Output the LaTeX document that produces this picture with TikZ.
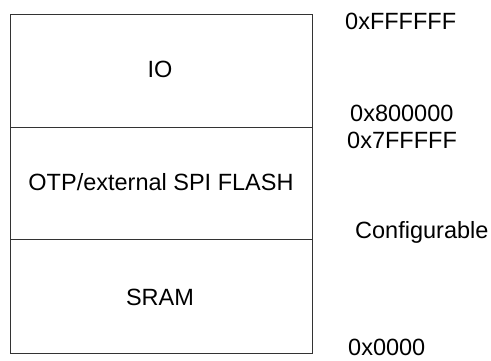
\documentclass[tikz,border=0pt]{standalone}
\usepackage{fontspec}
\setmainfont{Liberation Sans}
\begin{document}
\begin{tikzpicture}[x=1pt,y=-1pt,
  region/.style={draw=black!80,line width=0.9pt,minimum width=302pt,inner sep=0pt,anchor=north west},
  lbl/.style={font=\fontsize{23.5}{26}\selectfont,inner sep=0pt},
  addr/.style={font=\fontsize{23.5}{26}\selectfont,anchor=west,inner sep=0pt}]
\useasboundingbox (0,0) rectangle (491,360);
\node[region,minimum height=113pt] (io) at (10,14) {};
\node[region,minimum height=112pt] (otp) at (10,127) {};
\node[region,minimum height=114pt] (sram) at (10,239) {};
\node[lbl] (tio) at (160,69) {IO};
\node[lbl] (totp) at (161,182) {OTP/external SPI FLASH};
\node[lbl] (tsram) at (160,297) {SRAM};
\node[addr] (a1) at (345,21) {0xFFFFFF};
\node[addr] (a2) at (350,113) {0x800000};
\node[addr] (a3) at (347,140) {0x7FFFFF};
\node[addr] (a4) at (355,232) {Configurable};
\node[addr] (a5) at (348,347) {0x0000};
\end{tikzpicture}
\end{document}
